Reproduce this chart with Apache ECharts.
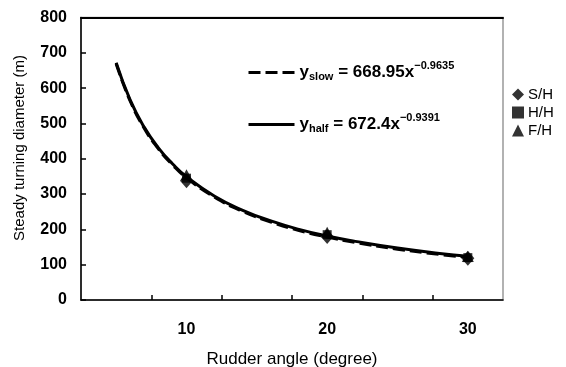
<!DOCTYPE html>
<html>
<head>
<meta charset="utf-8">
<script src="https://cdn.jsdelivr.net/npm/echarts@6/dist/echarts.min.js"></script>
<style>
  html, body { margin: 0; padding: 0; background: #fff; }
  #chart { width: 566px; height: 367px; }
</style>
</head>
<body>
<div id="chart"></div>
<script>
// Rudder angles (degree) along the fitted curves
const curveAngles = [5, 6, 7, 8, 9, 10, 12, 14, 16, 18, 20, 22, 25, 28, 30];
// Steady turning diameter (m), slow-speed fit
const slowFit = [669, 563, 486, 428, 383, 346, 291, 251, 221, 197, 178, 163, 144, 129, 121];
// Steady turning diameter (m), half-speed fit
const halfFit = [672, 566, 489, 431, 386, 349, 294, 254, 224, 200, 181, 166, 147, 132, 124];

// Measured points at the tested rudder angles
const testAngles = [10, 20, 30];
const sh = [338, 180, 118];
const hh = [345, 185, 120];
const fh = [355, 192, 123];

const xTicks = [7.5, 12.5, 17.5, 22.5, 27.5];
const xLabels = [10, 20, 30];

const slowName = 'slow';
const halfName = 'half';
const eqText = {
  slow: '{y|y}{sub|slow}{eq| = 668.95x}{sup|−0.9635}',
  half: '{y|y}{sub|half}{eq| = 672.4x}{sup|−0.9391}'
};

const font = '"Liberation Sans", Arial, sans-serif';
const pairs = (xs, ys) => xs.map((x, i) => [x, ys[i]]);

const chart = echarts.init(document.getElementById('chart'), null, { renderer: 'canvas' });
chart.setOption({
  backgroundColor: '#fff',
  animation: false,
  textStyle: { fontFamily: font },
  grid: {
    left: 81, right: 63, top: 17.5, bottom: 67,
    outerBoundsMode: 'none', containLabel: false,
    show: true, borderColor: '#999', borderWidth: 1.5, backgroundColor: 'transparent'
  },
  xAxis: [{
    type: 'value', min: 2.5, max: 32.5,
    axisLine: { show: true, lineStyle: { color: '#000', width: 1.5 } },
    axisTick: { show: true, inside: true, length: 5, customValues: xTicks, lineStyle: { color: '#000', width: 1.5 } },
    axisLabel: { customValues: xLabels, margin: 22, color: '#000', fontSize: 16, fontWeight: 'bold', fontFamily: font },
    splitLine: { show: false },
    name: 'Rudder angle (degree)', nameLocation: 'middle', nameGap: 51,
    nameTextStyle: { color: '#000', fontSize: 17, fontFamily: font }
  }, {
    type: 'value', min: 2.5, max: 32.5, position: 'top',
    axisLine: { show: true, lineStyle: { color: '#000', width: 2 } },
    axisTick: { show: false }, axisLabel: { show: false }, splitLine: { show: false }
  }],
  yAxis: {
    type: 'value', min: 0, max: 800, interval: 100,
    axisLine: { show: true, lineStyle: { color: '#000', width: 1.5 } },
    axisTick: { show: true, inside: true, length: 5, lineStyle: { color: '#000', width: 1.5 } },
    axisLabel: { margin: 14, color: '#000', fontSize: 16, fontWeight: 'bold', fontFamily: font },
    splitLine: { show: false }
  },
  graphic: [{
    type: 'text', x: 20, y: 148, rotation: Math.PI / 2,
    style: {
      text: 'Steady turning diameter (m)', fill: '#000', fontSize: 15, fontFamily: font,
      align: 'center', verticalAlign: 'middle'
    }
  }],
  legend: [{
    data: [slowName, halfName],
    orient: 'vertical', left: 247, top: 60, padding: 0,
    itemWidth: 46, itemHeight: 14, itemGap: 30,
    itemStyle: { opacity: 0 },
    lineStyle: { width: 3, color: '#000' },
    formatter: n => eqText[n],
    textStyle: {
      color: '#000', fontFamily: font,
      rich: {
        y: { fontSize: 17, fontWeight: 'bold', color: '#000', fontFamily: font },
        sub: { fontSize: 11, fontWeight: 'bold', color: '#000', fontFamily: font, padding: [8, 0, 0, 0] },
        eq: { fontSize: 17, fontWeight: 'bold', color: '#000', fontFamily: font },
        sup: { fontSize: 11, fontWeight: 'bold', color: '#000', fontFamily: font, padding: [0, 0, 14, 0] }
      }
    }
  }, {
    data: ['S/H', 'H/H', 'F/H'],
    orient: 'vertical', left: 512, top: 87, padding: 0,
    itemWidth: 12, itemHeight: 12, itemGap: 3,
    textStyle: { color: '#000', fontSize: 15, fontFamily: font, padding: [0, 0, 0, -1] }
  }],
  series: [{
    name: halfName, type: 'line', data: pairs(curveAngles, halfFit), smooth: true,
    symbol: 'none', lineStyle: { color: '#000', width: 3, type: 'solid' }, itemStyle: { color: '#000' }
  }, {
    name: slowName, type: 'line', data: pairs(curveAngles, slowFit), smooth: true,
    symbol: 'none', lineStyle: { color: '#000', width: 3, type: [12, 5] }, itemStyle: { color: '#000' }
  }, {
    name: 'S/H', type: 'scatter', data: pairs(testAngles, sh),
    symbol: 'diamond', symbolSize: [13, 15], itemStyle: { color: '#000' }
  }, {
    name: 'H/H', type: 'scatter', data: pairs(testAngles, hh),
    symbol: 'rect', symbolSize: 9, itemStyle: { color: '#000' }
  }, {
    name: 'F/H', type: 'scatter', data: pairs(testAngles, fh),
    symbol: 'triangle', symbolSize: [12, 11], itemStyle: { color: '#000' }
  }]
});
</script>
</body>
</html>
